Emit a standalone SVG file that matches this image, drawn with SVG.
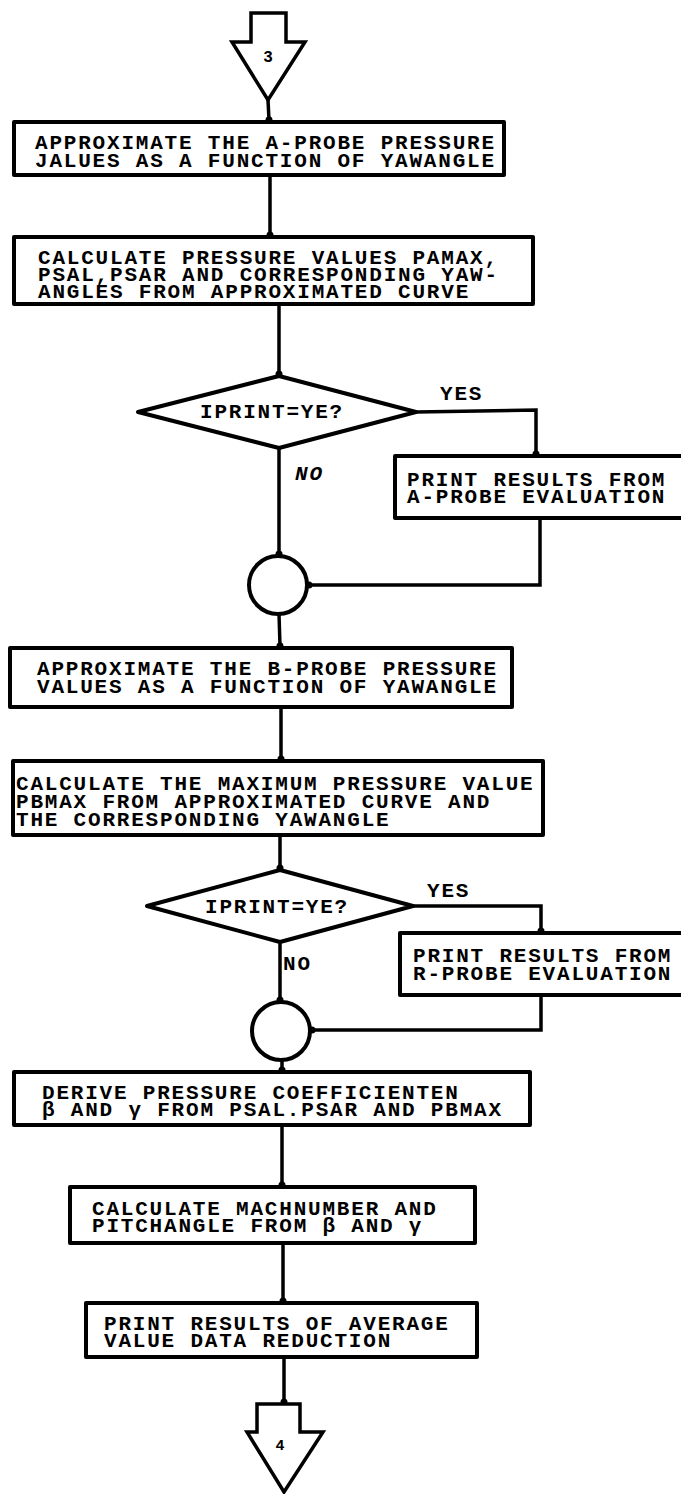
<svg xmlns="http://www.w3.org/2000/svg" width="681" height="1494" viewBox="0 0 681 1494">
<style>
.t{font-family:"Liberation Mono","DejaVu Sans Mono",monospace;font-size:21px;letter-spacing:1.8px;font-weight:bold;fill:#000}
.lb{font-family:"Liberation Mono","DejaVu Sans Mono",monospace;font-weight:bold;fill:#000}
.box{fill:#fff;stroke:#000;stroke-width:4;stroke-linejoin:round}
.sh{fill:#fff;stroke:#000;stroke-width:3.5;stroke-linejoin:miter}
.ln{fill:none;stroke:#000;stroke-width:3.5;marker-end:url(#dot)}
</style>
<defs>
<marker id="dot" markerUnits="userSpaceOnUse" markerWidth="10" markerHeight="10" refX="5" refY="5" orient="auto">
<circle cx="5" cy="5" r="3.5" fill="#000"/>
</marker>
</defs>
<rect width="681" height="1494" fill="#fff"/>
<g id="connectors">
<path class="ln" d="M268,100 L269,120"/>
<path class="ln" d="M270,175 L270,235"/>
<path class="ln" d="M279,304 L279,374"/>
<path class="ln" d="M416,412 L536,410 L536,454"/>
<path class="ln" d="M279,448 L279,554"/>
<path class="ln" d="M540,518 L540,585 L309,585"/>
<path class="ln" d="M279,614 L280,646"/>
<path class="ln" d="M281,707 L281,759"/>
<path class="ln" d="M280,835 L280,868"/>
<path class="ln" d="M413,906 L541,906 L541,931"/>
<path class="ln" d="M280,942 L280,1000"/>
<path class="ln" d="M541,995 L541,1030 L312,1030"/>
<path class="ln" d="M282,1060 L282,1070"/>
<path class="ln" d="M282,1125 L282,1185"/>
<path class="ln" d="M283,1243 L283,1301"/>
<path class="ln" d="M284,1357 L284,1402"/>
</g>
<g id="start">
<polygon class="sh" points="251,13 286,13 286,42 305,42 268,100 232,42 251,42"/>
<text class="lb" x="268" y="62" text-anchor="middle" font-size="16">3</text>
</g>
<g id="box1">
<rect class="box" x="14" y="122" width="490" height="53"/>
<text class="t" x="35" y="149">APPROXIMATE THE A-PROBE PRESSURE</text>
<text class="t" x="35" y="167">JALUES AS A FUNCTION OF YAWANGLE</text>
</g>
<g id="box2">
<rect class="box" x="14" y="237" width="519" height="67"/>
<text class="t" x="38" y="264">CALCULATE PRESSURE VALUES PAMAX,</text>
<text class="t" x="38" y="281">PSAL,PSAR AND CORRESPONDING YAW-</text>
<text class="t" x="38" y="298">ANGLES FROM APPROXIMATED CURVE</text>
</g>
<g id="decision1">
<polygon class="box" points="279,376 416,412 279,448 138,412"/>
<text class="t" x="272" y="418" text-anchor="middle">IPRINT=YE?</text>
<text class="t" x="440" y="400">YES</text>
<text class="t" x="295" y="480" font-style="italic">NO</text>
</g>
<g id="printA">
<rect class="box" x="395" y="456" width="300" height="62"/>
<text class="t" x="407" y="486">PRINT RESULTS FROM</text>
<text class="t" x="407" y="503">A-PROBE EVALUATION</text>
</g>
<g id="join1">
<circle class="box" cx="278" cy="585" r="29"/>
</g>
<g id="box3">
<rect class="box" x="10" y="648" width="502" height="59"/>
<text class="t" x="37" y="675">APPROXIMATE THE B-PROBE PRESSURE</text>
<text class="t" x="37" y="693">VALUES AS A FUNCTION OF YAWANGLE</text>
</g>
<g id="box4">
<rect class="box" x="13" y="761" width="530" height="74"/>
<text class="t" x="16" y="790">CALCULATE THE MAXIMUM PRESSURE VALUE</text>
<text class="t" x="16" y="808">PBMAX FROM APPROXIMATED CURVE AND</text>
<text class="t" x="16" y="826">THE CORRESPONDING YAWANGLE</text>
</g>
<g id="decision2">
<polygon class="box" points="280,870 413,906 280,942 147,906"/>
<text class="t" x="277" y="913" text-anchor="middle">IPRINT=YE?</text>
<text class="t" x="427" y="897">YES</text>
<text class="t" x="283" y="970">NO</text>
</g>
<g id="printB">
<rect class="box" x="400" y="933" width="300" height="62"/>
<text class="t" x="413" y="962">PRINT RESULTS FROM</text>
<text class="t" x="413" y="980">R-PROBE EVALUATION</text>
</g>
<g id="join2">
<circle class="box" cx="281" cy="1031" r="29"/>
</g>
<g id="box5">
<rect class="box" x="14" y="1072" width="516" height="53"/>
<text class="t" x="42" y="1099">DERIVE PRESSURE COEFFICIENTEN</text>
<text class="t" x="42" y="1116">β AND γ FROM PSAL.PSAR AND PBMAX</text>
</g>
<g id="box6">
<rect class="box" x="70" y="1187" width="405" height="56"/>
<text class="t" x="92" y="1215">CALCULATE MACHNUMBER AND</text>
<text class="t" x="92" y="1232">PITCHANGLE FROM β AND γ</text>
</g>
<g id="box7">
<rect class="box" x="86" y="1303" width="391" height="54"/>
<text class="t" x="104" y="1330">PRINT RESULTS OF AVERAGE</text>
<text class="t" x="104" y="1347">VALUE DATA REDUCTION</text>
</g>
<g id="end">
<polygon class="sh" points="257,1404 300,1404 300,1432 323,1432 284,1492 247,1432 257,1432"/>
<text class="lb" x="280" y="1450" text-anchor="middle" font-size="15">4</text>
</g>
</svg>
